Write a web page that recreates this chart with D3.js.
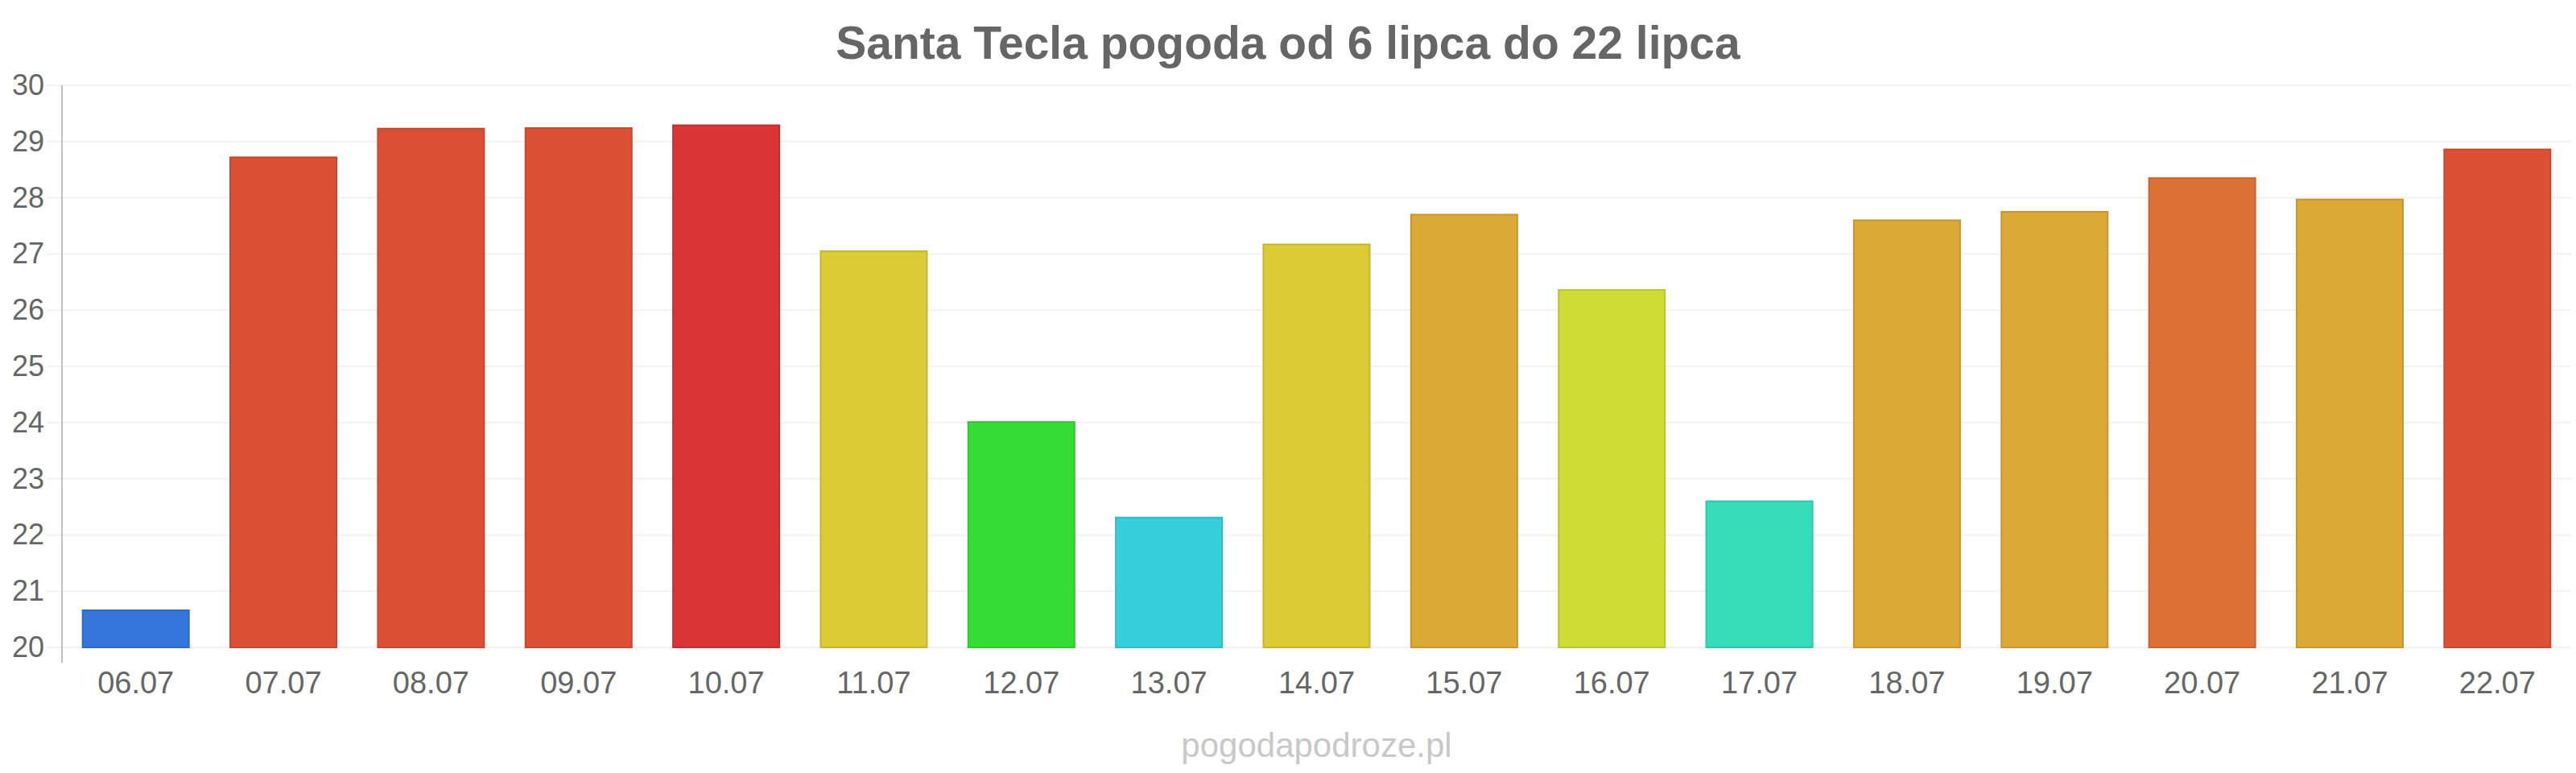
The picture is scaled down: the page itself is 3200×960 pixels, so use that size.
<!DOCTYPE html>
<html>
<head>
<meta charset="utf-8">
<script src="https://cdn.jsdelivr.net/npm/d3@7"></script>
<style>
  body { margin: 0; background: #fff; }
  svg text { font-family: "Liberation Sans", Arial, sans-serif; }
</style>
</head>
<body>
<script>
'use strict';

// chart data
const days = ["06.07", "07.07", "08.07", "09.07", "10.07", "11.07", "12.07", "13.07", "14.07",
  "15.07", "16.07", "17.07", "18.07", "19.07", "20.07", "21.07", "22.07"];
const temps = [20.66, 28.72, 29.23, 29.24, 29.29, 27.05, 24.01, 22.31, 27.17,
  27.70, 26.36, 22.60, 27.60, 27.75, 28.35, 27.97, 28.86];
const barColors = ["#3476db", "#dc5035", "#dc5035", "#dc5035", "#da3536", "#dbcb35", "#36dd36", "#36cfdb", "#dbcb35",
  "#dca836", "#cfdc36", "#36dcb8", "#dca836", "#dca836", "#dd7035", "#dca836", "#dc5035"];
const yTicks = [20, 21, 22, 23, 24, 25, 26, 27, 28, 29, 30];
const title = "Santa Tecla pogoda od 6 lipca do 22 lipca";
const credit = "pogodapodroze.pl";

(function () {
  const width = 3200, height = 960;
  const plot = { left: 77, right: 3194, top: 106, bottom: 804 };

  const svg = d3.select('body')
    .append('svg')
    .attr('width', width)
    .attr('height', height);

  // scales
  let xScale = d3.scaleBand()
    .domain(days)
    .range([plot.left, plot.right])
    .paddingInner(0.28)
    .paddingOuter(0.14);

  let yScale = d3.scaleLinear()
    .domain([20, 30])
    .range([plot.bottom, plot.top]);

  // horizontal grid lines (also the little ticks left of the axis)
  svg.append('g')
    .selectAll('line')
    .data(yTicks)
    .enter()
    .append('line')
    .attr('x1', plot.left - 19)
    .attr('x2', plot.right)
    .attr('y1', d => yScale(d))
    .attr('y2', d => yScale(d))
    .attr('stroke', '#f2f2f2')
    .attr('stroke-width', 2);

  // y axis labels
  let yAxis = d3.axisLeft(yScale)
    .tickValues(yTicks)
    .tickSize(0)
    .tickPadding(22);
  let gy = svg.append('g')
    .attr('transform', 'translate(' + plot.left + ',0)')
    .call(yAxis);
  gy.select('.domain').remove();
  gy.selectAll('text')
    .attr('fill', '#666')
    .style('font-size', '36px');

  // vertical axis line
  svg.append('line')
    .attr('x1', plot.left)
    .attr('x2', plot.left)
    .attr('y1', plot.top)
    .attr('y2', plot.bottom + 19)
    .attr('stroke', '#c0c0c0')
    .attr('stroke-width', 2);

  // bars
  svg.append('g')
    .selectAll('rect')
    .data(days)
    .enter()
    .append('rect')
    .attr('x', d => xScale(d))
    .attr('width', xScale.bandwidth())
    .attr('y', (d, i) => yScale(temps[i]))
    .attr('height', (d, i) => yScale(20) - yScale(temps[i]))
    .attr('fill', (d, i) => barColors[i])
    .attr('stroke', (d, i) => d3.color(barColors[i]).darker(0.3))
    .attr('stroke-width', 2);

  // x axis labels
  let xAxis = d3.axisBottom(xScale)
    .tickSize(0)
    .tickPadding(30);
  let gx = svg.append('g')
    .attr('transform', 'translate(0,' + plot.bottom + ')')
    .call(xAxis);
  gx.select('.domain').remove();
  gx.selectAll('text')
    .attr('fill', '#666')
    .style('font-size', '38px');

  // title
  svg.append('text')
    .attr('x', 1600)
    .attr('y', 73)
    .attr('text-anchor', 'middle')
    .attr('fill', '#666')
    .style('font-size', '57px')
    .style('font-weight', 'bold')
    .text(title);

  // watermark
  svg.append('text')
    .attr('x', (plot.left + plot.right) / 2)
    .attr('y', 940)
    .attr('text-anchor', 'middle')
    .attr('fill', '#c8c8c8')
    .style('font-size', '42px')
    .text(credit);
})();
</script>
</body>
</html>
